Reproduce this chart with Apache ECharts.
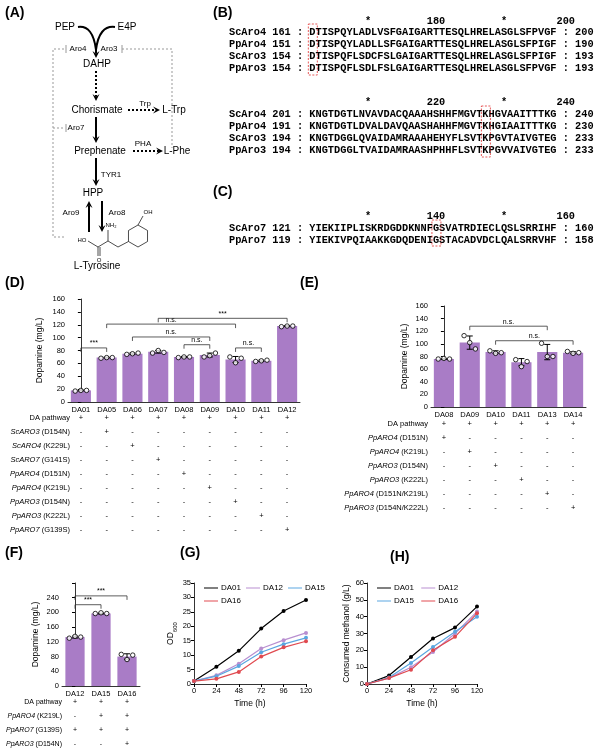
<!DOCTYPE html>
<html><head><meta charset="utf-8">
<script src="https://cdn.jsdelivr.net/npm/echarts@6/dist/echarts.min.js"></script>
<style>html,body{margin:0;padding:0;background:#fff}#main{width:594px;height:749px}</style>
</head><body><div id="main"></div>
<script>
// ---- data ----
var dStrains = ['DA01','DA05','DA06','DA07','DA08','DA09','DA10','DA11','DA12'];
var dMeans = [18, 69, 75, 78, 70, 73, 66, 64, 118];
var dReps = [[17,18,18],[68,69,69],[74,75,76],[76,80,77],[69,70,70],[70,72,76],[70,61,68],[63,64,65],[117,118,118]];
var dBrackets = [[0,1,84,'***'],[4,5,89,'n.s.'],[6,7,84,'n.s.'],[2,5,101,'n.s.'],[1,6,121,'n.s.'],[3,8,130,'***']];
var dRows = ['DA pathway','{i|ScARO3} (D154N)','{i|ScARO4} (K229L)','{i|ScARO7} (G141S)','{i|PpARO4} (D151N)','{i|PpARO4} (K219L)','{i|PpARO3} (D154N)','{i|PpARO3} (K222L)','{i|PpARO7} (G139S)'];
var dTable = ['+++++++++','-+-------','--+------','---+-----','----+----','-----+---','------+--','-------+-','--------+'];

var eStrains = ['DA08','DA09','DA10','DA11','DA13','DA14'];
var eMeans = [76, 102, 87, 71, 87, 86];
var eReps = [[76,77,76],[113,102,92],[89,85,86],[75,64,72],[101,80,80],[88,85,86]];
var eBrackets = [[1,4,128,'n.s.'],[2,5,105,'n.s.']];
var eRows = ['DA pathway','{i|PpARO4} (D151N)','{i|PpARO4} (K219L)','{i|PpARO3} (D154N)','{i|PpARO3} (K222L)','{i|PpARO4} (D151N/K219L)','{i|PpARO3} (D154N/K222L)'];
var eTable = ['++++++','+-----','-+----','--+---','---+--','----+-','-----+'];

var fStrains = ['DA12','DA15','DA16'];
var fMeans = [133, 197, 80];
var fReps = [[130,135,133],[197,199,197],[86,72,84]];
var fBrackets = [[0,1,221,'***'],[0,2,245,'***']];
var fRows = ['DA pathway','{i|PpARO4} (K219L)','{i|PpARO7} (G139S)','{i|PpARO3} (D154N)'];
var fTable = ['+++','-++','+++','--+'];

var times = [0, 24, 48, 72, 96, 120];
var odDA01 = [1, 6, 11.5, 19.2, 25.3, 29.1];
var odDA12 = [1, 3, 7, 12.3, 15.2, 17.7];
var odDA15 = [1, 2.7, 6.2, 11.0, 13.8, 16.0];
var odDA16 = [1, 1.8, 4.2, 9.5, 12.7, 14.8];
var meDA01 = [0, 5, 16, 27, 33.5, 46];
var meDA12 = [0, 3.5, 10, 19, 30, 43];
var meDA15 = [0, 3.8, 12.5, 22, 31, 40];
var meDA16 = [0, 3.5, 8.5, 20, 28, 42];

var FONT = 'Liberation Sans';
var BAR = '#a97cc6';
var lineColors = {DA01:'#000000', DA12:'#b88fd0', DA15:'#5aa6e0', DA16:'#e04a50'};

var chart = echarts.init(document.getElementById('main'), null, {renderer:'canvas'});

function sd(a){var m=a.reduce(function(s,v){return s+v;},0)/a.length;return Math.sqrt(a.reduce(function(s,v){return s+(v-m)*(v-m);},0)/(a.length-1));}

function errRender(params, api){
  var a=api.coord([api.value(0),api.value(1)]), b=api.coord([api.value(0),api.value(2)]);
  var s={stroke:'#000',lineWidth:1};
  return {type:'group',children:[
    {type:'line',shape:{x1:a[0],y1:a[1],x2:b[0],y2:b[1]},style:s},
    {type:'line',shape:{x1:a[0]-3,y1:a[1],x2:a[0]+3,y2:a[1]},style:s},
    {type:'line',shape:{x1:b[0]-3,y1:b[1],x2:b[0]+3,y2:b[1]},style:s}]};
}
function bracketRender(labels){
  return function(params, api){
    var p1=api.coord([api.value(0),api.value(2)]), p2=api.coord([api.value(1),api.value(2)]);
    return {type:'group',children:[
      {type:'polyline',shape:{points:[[p1[0],p1[1]+4],[p1[0],p1[1]],[p2[0],p2[1]],[p2[0],p2[1]+4]]},style:{stroke:'#333',lineWidth:0.8,fill:null}},
      {type:'text',x:(p1[0]+p2[0])/2,y:p1[1]-1,style:{text:labels[params.dataIndex],fontSize:7,fontFamily:FONT,fill:'#000',align:'center',verticalAlign:'bottom'}}]};
  };
}
function barPanel(xc, xv, yi, means, reps, brackets, barW){
  var pts=[], errs=[];
  reps.forEach(function(r,i){
    pts.push([i-0.22,r[0]],[i,r[1]],[i+0.22,r[2]]);
    var s=sd(r); errs.push([i,means[i]-s,means[i]+s]);
  });
  return [
    {type:'bar',xAxisIndex:xc,yAxisIndex:yi,data:means,barWidth:barW,itemStyle:{color:BAR},silent:true},
    {type:'custom',xAxisIndex:xv,yAxisIndex:yi,data:errs,renderItem:errRender,z:5},
    {type:'scatter',xAxisIndex:xv,yAxisIndex:yi,data:pts,symbolSize:4.5,itemStyle:{color:'#fff',borderColor:'#000',borderWidth:1},z:6},
    {type:'custom',xAxisIndex:xv,yAxisIndex:yi,data:brackets.map(function(b){return b.slice(0,3);}),renderItem:bracketRender(brackets.map(function(b){return b[3];})),z:4}
  ];
}
var axLabel={fontSize:7.5,fontFamily:FONT,color:'#000'};
var axLine={lineStyle:{color:'#000',width:0.8}};
function catAxis(g,cats){return {type:'category',gridIndex:g,data:cats,axisLine:axLine,axisTick:{show:false},axisLabel:Object.assign({margin:4},axLabel)};}
function valHidden(g,n){return {type:'value',gridIndex:g,min:-0.5,max:n-0.5,show:false};}
function yVal(g,max,interval,name,gap,fmt){return {type:'value',gridIndex:g,min:0,max:max,interval:interval,name:name,nameLocation:'middle',nameGap:gap,nameTextStyle:{fontSize:8.5,fontFamily:FONT,color:'#000',rich:{s:{fontSize:6,fontFamily:FONT,verticalAlign:'bottom',padding:[0,0,-4,0]}}},axisLine:Object.assign({show:true},axLine),axisTick:{show:true,length:3,lineStyle:{color:'#000'}},splitLine:{show:false},axisLabel:Object.assign({margin:3,formatter:fmt},axLabel)};}
function timeAxis(g){return {type:'value',gridIndex:g,min:0,max:120,interval:24,name:'Time (h)',nameLocation:'middle',nameGap:15,nameTextStyle:{fontSize:8.5,color:'#000'},axisLine:axLine,axisTick:{length:3,lineStyle:{color:'#000'}},splitLine:{show:false},axisLabel:Object.assign({margin:3},axLabel)};}

function lineSeries(xi,yi,name,vals,label){
  return {type:'line',name:label,xAxisIndex:xi,yAxisIndex:yi,data:times.map(function(t,i){return [t,vals[i]];}),symbol:'circle',symbolSize:4,lineStyle:{width:1.2,color:lineColors[name]},itemStyle:{color:lineColors[name]}};
}

var series = [].concat(
  barPanel(0,1,0,dMeans,dReps,dBrackets,'78%'),
  barPanel(2,3,1,eMeans,eReps,eBrackets,'78%'),
  barPanel(4,5,2,fMeans,fReps,fBrackets,'74%'),
  [lineSeries(6,3,'DA01',odDA01,'DA01'),lineSeries(6,3,'DA12',odDA12,'DA12'),lineSeries(6,3,'DA15',odDA15,'DA15'),lineSeries(6,3,'DA16',odDA16,'DA16'),
   lineSeries(7,4,'DA01',meDA01,'DA01 '),lineSeries(7,4,'DA12',meDA12,'DA12 '),lineSeries(7,4,'DA15',meDA15,'DA15 '),lineSeries(7,4,'DA16',meDA16,'DA16 ')]
);

function legendAt(left,names){return {left:left,top:579,width:125,itemWidth:14,itemHeight:6,itemGap:5,icon:'path://M0,2.5L14,2.5L14,3.5L0,3.5Z',data:names,textStyle:{fontSize:8,fontFamily:FONT,color:'#000',padding:[0,0,0,-2]},selectedMode:false};}

var option = {
  animation:false,
  textStyle:{fontFamily:FONT},
  grid:[
    {left:68,top:299,width:232,height:103},
    {left:431,top:306,width:155,height:101},
    {left:62,top:583,width:78,height:103},
    {left:194,top:583,width:112,height:101},
    {left:367,top:583,width:110,height:101}
  ],
  legend:[legendAt(199,['DA01','DA12','DA15','DA16']),legendAt(372,['DA01 ','DA12 ','DA15 ','DA16 '])],
  xAxis:[catAxis(0,dStrains),valHidden(0,9),catAxis(1,eStrains),valHidden(1,6),catAxis(2,fStrains),valHidden(2,3),timeAxis(3),timeAxis(4)],
  yAxis:[yVal(0,160,20,'Dopamine (mg/L)',24),yVal(1,160,20,'Dopamine (mg/L)',22),
    yVal(2,280,40,'Dopamine (mg/L)',22,function(v){return v>240?'':v;}),
    yVal(3,35,5,'OD{s|600}',18),yVal(4,60,10,'Consumed methanol (g/L)',16)],
  series:series
};
chart.setOption(option);

// ---- graphics: panel labels, pathway, alignments, tables ----
var G=[];
function txt(x,y,t,o){o=o||{};G.push({type:'text',x:x,y:y,silent:true,style:{text:t,fontSize:o.fs||10,fontFamily:o.ff||FONT,fontWeight:o.fw||'normal',fill:o.fill||'#000',align:o.align||'center',verticalAlign:'middle',rich:{i:{fontStyle:'italic',fontSize:o.fs||10,fontFamily:FONT}}}});}
function ln(pts,o){o=o||{};G.push({type:'polyline',silent:true,shape:{points:pts},style:{stroke:o.c||'#000',lineWidth:o.w||1,lineDash:o.dash||null,fill:null}});}
function arrow(x1,y1,x2,y2,o){o=o||{};var dx=x2-x1,dy=y2-y1,L=Math.sqrt(dx*dx+dy*dy),ux=dx/L,uy=dy/L,nx=-uy,ny=ux,h=o.h||7,hw=o.hw||3.5;
  ln([[x1,y1],[x2-ux*h*0.6,y2-uy*h*0.6]],{w:o.w||2,dash:o.dash});
  G.push({type:'polygon',silent:true,shape:{points:[[x2,y2],[x2-ux*h+nx*hw,y2-uy*h+ny*hw],[x2-ux*h*0.6,y2-uy*h*0.6],[x2-ux*h-nx*hw,y2-uy*h-ny*hw]]},style:{fill:'#000'}});}

['(A)',5,13,'(B)',213,13,'(C)',213,192,'(D)',5,283,'(E)',300,283,'(F)',5,553,'(G)',180,553,'(H)',390,557].forEach(function(v,i,a){if(i%3===0)txt(a[i+1],a[i+2],v,{fs:14,fw:'bold',align:'left'});});

// panel A
txt(65,27,'PEP');txt(127,27,'E4P');
G.push({type:'bezierCurve',silent:true,shape:{x1:78,y1:27,x2:96,y2:50,cpx1:93,cpy1:25},style:{stroke:'#000',lineWidth:2,fill:null}});
G.push({type:'bezierCurve',silent:true,shape:{x1:115,y1:27,x2:96,y2:50,cpx1:99,cpy1:25},style:{stroke:'#000',lineWidth:2,fill:null}});
arrow(96,46,96,58);
txt(78,49,'Aro4',{fs:8});txt(109,49,'Aro3',{fs:8});
txt(97,64,'DAHP');
arrow(96,71,96,101,{dash:[2,2]});
txt(97,110,'Chorismate');txt(145,104,'Trp',{fs:8});
arrow(128,110,160,110,{dash:[2,2]});txt(174,110,'L-Trp');
txt(76,128,'Aro7',{fs:8});
arrow(96,117,96,143);
txt(100,151,'Prephenate');txt(143,144,'PHA',{fs:8});
arrow(133,151,163,151,{dash:[2,2]});txt(177,151,'L-Phe');
txt(111,175,'TYR1',{fs:8});
arrow(96,158,96,186);
txt(93,193,'HPP');
txt(71,213,'Aro9',{fs:8});txt(117,213,'Aro8',{fs:8});
arrow(89,232,89,201);arrow(102,201,102,232);
var gd={c:'#999',w:1,dash:[2,2]};
ln([[64,49],[53,49],[53,237],[64,237]],gd);ln([[66,45],[66,53]],{c:'#999'});
ln([[122,49],[172,49],[172,148]],gd);ln([[122,45],[122,53]],{c:'#999'});
ln([[53,128],[64,128]],gd);ln([[66,124],[66,132]],{c:'#999'});
var hex=[];for(var k=0;k<6;k++){var an=(-90+60*k)*Math.PI/180;hex.push([138+11*Math.cos(an),236+11*Math.sin(an)]);}
G.push({type:'polygon',silent:true,shape:{points:hex},style:{stroke:'#000',lineWidth:0.7,fill:null}});
ln([hex[0],[143,216]],{w:0.7});txt(148,212,'OH',{fs:6});
ln([hex[4],[118,247],[108,241],[98,247],[88,241]],{w:0.7});
ln([[108,241],[108,230]],{w:0.7});txt(111,225,'NH\u2082',{fs:6});
txt(82,240,'HO',{fs:6});ln([[98,247],[98,256]],{w:0.7});ln([[100,247],[100,256]],{w:0.7});txt(99,260,'O',{fs:6});
txt(97,266,'L-Tyrosine');

// panels B, C alignments
var FS=10.3, CW=FS*0.6;
var MONO={fs:FS,ff:'Liberation Mono',fw:'bold',align:'left'};
var X0=229;
var bHead1='                      *         180         *        200';
var bBlock1=['ScAro4 161 : DTISPQYLADLVSFGAIGARTTESQLHRELASGLSFPVGF : 200','PpAro4 151 : DTISPQYLADLLSFGAIGARTTESQLHRELASGLSFPIGF : 190','ScAro3 154 : DTISPQFLSDCFSLGAIGARTTESQLHRELASGLSFPIGF : 193','PpAro3 154 : DTISPQFLSDLFSLGAIGARTTESQLHRELASGLSFPVGF : 193'];
var bHead2='                      *         220         *        240';
var bBlock2=['ScAro4 201 : KNGTDGTLNVAVDACQAAAHSHHFMGVTKHGVAAITTTKG : 240','PpAro4 191 : KNGTDGTLDVALDAVQAASHAHHFMGVTKHGIAAITTTKG : 230','ScAro3 194 : KNGTDGGLQVAIDAMRAAAHEHYFLSVTKPGVTAIVGTEG : 233','PpAro3 194 : KNGTDGGLTVAIDAMRAASHPHHFLSVTKPGVVAIVGTEG : 233'];
var cHead='                      *         140         *        160';
var cBlock=['ScAro7 121 : YIEKIIPLISKRDGDDKNNFGSVATRDIECLQSLSRRIHF : 160','PpAro7 119 : YIEKIVPQIAAKKGDQDENIGSTACADVDCLQALSRRVHF : 158'];
txt(X0,21,bHead1,MONO);bBlock1.forEach(function(s,i){txt(X0,32+12*i,s,MONO);});
txt(X0,102,bHead2,MONO);bBlock2.forEach(function(s,i){txt(X0,114+12*i,s,MONO);});
txt(X0,216,cHead,MONO);cBlock.forEach(function(s,i){txt(X0,228+12*i,s,MONO);});
function rbox(x,y,w,h){G.push({type:'rect',silent:true,shape:{x:x,y:y,width:w,height:h},style:{stroke:'#e03030',lineWidth:0.8,lineDash:[2,1.5],fill:null}});}
rbox(X0+13*CW-1,24,9,51);rbox(X0+41*CW-1,106,9,51);rbox(X0+33*CW-1,220,9,26);

// tables under bar charts
function table(xv,rows,cells,y0,dy,right,n,fs){
  rows.forEach(function(r,j){
    txt(right,y0+dy*j,r,{fs:fs,align:'right'});
    for(var i=0;i<n;i++){var px=chart.convertToPixel({xAxisIndex:xv},i);txt(px,y0+dy*j,cells[j][i],{fs:fs});}
  });
}
table(1,dRows,dTable,418,14,70,9,7.5);
table(3,eRows,eTable,424,14,428,6,7.5);
table(5,fRows,fTable,702,14,62,3,7);

chart.setOption({graphic:G});
window.addEventListener('resize', chart.resize);
</script></body></html>
